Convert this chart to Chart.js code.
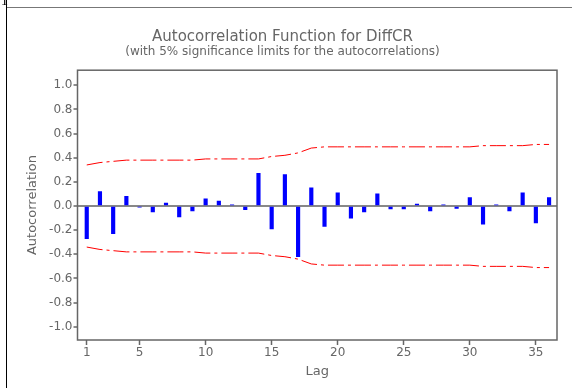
<!DOCTYPE html>
<html>
<head>
<meta charset="utf-8">
<script src="https://cdn.jsdelivr.net/npm/chart.js@4.4.1/dist/chart.umd.min.js"></script>
<style>
  body { margin: 0; background: #fff; }
  canvas { display: block; }
</style>
</head>
<body>
<canvas id="myChart" width="572" height="388"></canvas>
<script>
const lags = [1, 2, 3, 4, 5, 6, 7, 8, 9, 10, 11, 12, 13, 14, 15, 16, 17, 18,
              19, 20, 21, 22, 23, 24, 25, 26, 27, 28, 29, 30, 31, 32, 33, 34, 35, 36];
const acf = [-0.27, 0.12, -0.23, 0.08, -0.01, -0.05, 0.025, -0.09, -0.04, 0.06, 0.04, 0.01,
             -0.03, 0.27, -0.19, 0.26, -0.42, 0.15, -0.17, 0.11, -0.10, -0.05, 0.10, -0.025,
             -0.025, 0.015, -0.04, 0.01, -0.02, 0.07, -0.15, 0.01, -0.04, 0.11, -0.14, 0.07];
const upperLimit = [0.34, 0.36, 0.37, 0.38, 0.38, 0.38, 0.38, 0.38, 0.38, 0.39, 0.39, 0.39,
                    0.39, 0.39, 0.41, 0.42, 0.44, 0.48, 0.49, 0.49, 0.49, 0.49, 0.49, 0.49,
                    0.49, 0.49, 0.49, 0.49, 0.49, 0.49, 0.50, 0.50, 0.50, 0.50, 0.51, 0.51];
const lowerLimit = [-0.34, -0.36, -0.37, -0.38, -0.38, -0.38, -0.38, -0.38, -0.38, -0.39, -0.39, -0.39,
                    -0.39, -0.39, -0.41, -0.42, -0.44, -0.48, -0.49, -0.49, -0.49, -0.49, -0.49, -0.49,
                    -0.49, -0.49, -0.49, -0.49, -0.49, -0.49, -0.50, -0.50, -0.50, -0.50, -0.51, -0.51];
const xTicks = [1, 5, 10, 15, 20, 25, 30, 35];
const yTicks = [-1.0, -0.8, -0.6, -0.4, -0.2, 0.0, 0.2, 0.4, 0.6, 0.8, 1.0];

const textColor = '#666';
const fontName = "'DejaVu Sans', sans-serif";

// page frame + plot box
const framePlugin = {
  id: 'frame',
  beforeDraw(chart) {
    const c = chart.ctx;
    c.save();
    c.fillStyle = '#fff';
    c.fillRect(0, 0, chart.width, chart.height);
    c.strokeStyle = '#777';
    c.lineWidth = 1;
    c.beginPath();
    c.moveTo(6, 7.5);
    c.lineTo(chart.width, 7.5);
    c.stroke();
    c.strokeStyle = '#000';
    c.beginPath();
    c.moveTo(6.5, 0);
    c.lineTo(6.5, chart.height);
    c.stroke();
    c.fillStyle = '#000';
    c.font = "14px 'Liberation Serif', serif";
    c.fillText('1', 1, 5);
    c.restore();
  },
  afterDraw(chart) {
    const a = chart.chartArea;
    const c = chart.ctx;
    c.save();
    c.strokeStyle = '#666';
    c.lineWidth = 1.5;
    c.strokeRect(a.left, a.top, a.right - a.left, a.bottom - a.top);
    c.restore();
  }
};

const ctx = document.getElementById('myChart').getContext('2d');
const myChart = new Chart(ctx, {
  type: 'bar',
  data: {
    datasets: [{
      type: 'line',
      data: lags.map((l, i) => ({ x: l, y: upperLimit[i] })),
      borderColor: '#f00',
      borderWidth: 1,
      borderDash: [16, 4, 3, 4],
      pointRadius: 0,
      tension: 0
    }, {
      type: 'line',
      data: lags.map((l, i) => ({ x: l, y: lowerLimit[i] })),
      borderColor: '#f00',
      borderWidth: 1,
      borderDash: [16, 4, 3, 4],
      pointRadius: 0,
      tension: 0
    }, {
      data: lags.map((l, i) => ({ x: l, y: acf[i] })),
      backgroundColor: '#0000ff',
      barThickness: 3.5
    }]
  },
  options: {
    responsive: false,
    animation: false,
    layout: { padding: { left: 8, right: 15, top: 0, bottom: 0 } },
    plugins: {
      legend: { display: false },
      tooltip: { enabled: false },
      title: {
        display: true,
        text: 'Autocorrelation Function for DiffCR',
        color: textColor,
        font: { family: fontName, size: 15, weight: 'normal', lineHeight: 1 },
        padding: { top: 30, bottom: 0 }
      },
      subtitle: {
        display: true,
        text: '(with 5% significance limits for the autocorrelations)',
        color: textColor,
        font: { family: fontName, size: 12, lineHeight: 1.1 },
        padding: { top: 0, bottom: 12 }
      }
    },
    scales: {
      x: {
        type: 'linear',
        min: 0.3,
        max: 36.6,
        offset: false,
        afterBuildTicks: s => { s.ticks = xTicks.map(v => ({ value: v })); },
        afterFit: s => { s.height = 48; },
        grid: { offset: false, drawOnChartArea: false, tickLength: 5, tickColor: '#666', tickWidth: 1.5 },
        border: { display: false },
        ticks: { color: textColor, font: { family: fontName, size: 12 }, padding: 1, maxRotation: 0 },
        title: {
          display: true,
          text: 'Lag',
          color: textColor,
          font: { family: fontName, size: 13 },
          padding: { top: 0, bottom: 9 }
        }
      },
      y: {
        min: -1.11,
        max: 1.125,
        afterBuildTicks: s => { s.ticks = yTicks.map(v => ({ value: v })); },
        afterFit: s => { s.width = 69.5; },
        grid: {
          color: c => (c.tick && c.tick.value === 0 ? '#888' : 'rgba(0,0,0,0)'),
          lineWidth: 2,
          tickColor: '#666',
          tickWidth: 1.5,
          tickLength: 4
        },
        border: { display: false },
        ticks: {
          color: textColor,
          font: { family: fontName, size: 12 },
          padding: 1,
          callback: v => v.toFixed(1)
        },
        title: {
          display: true,
          text: 'Autocorrelation',
          color: textColor,
          font: { family: fontName, size: 13 },
          padding: { top: 17, bottom: 0 }
        }
      }
    }
  },
  plugins: [framePlugin]
});
</script>
</body>
</html>
